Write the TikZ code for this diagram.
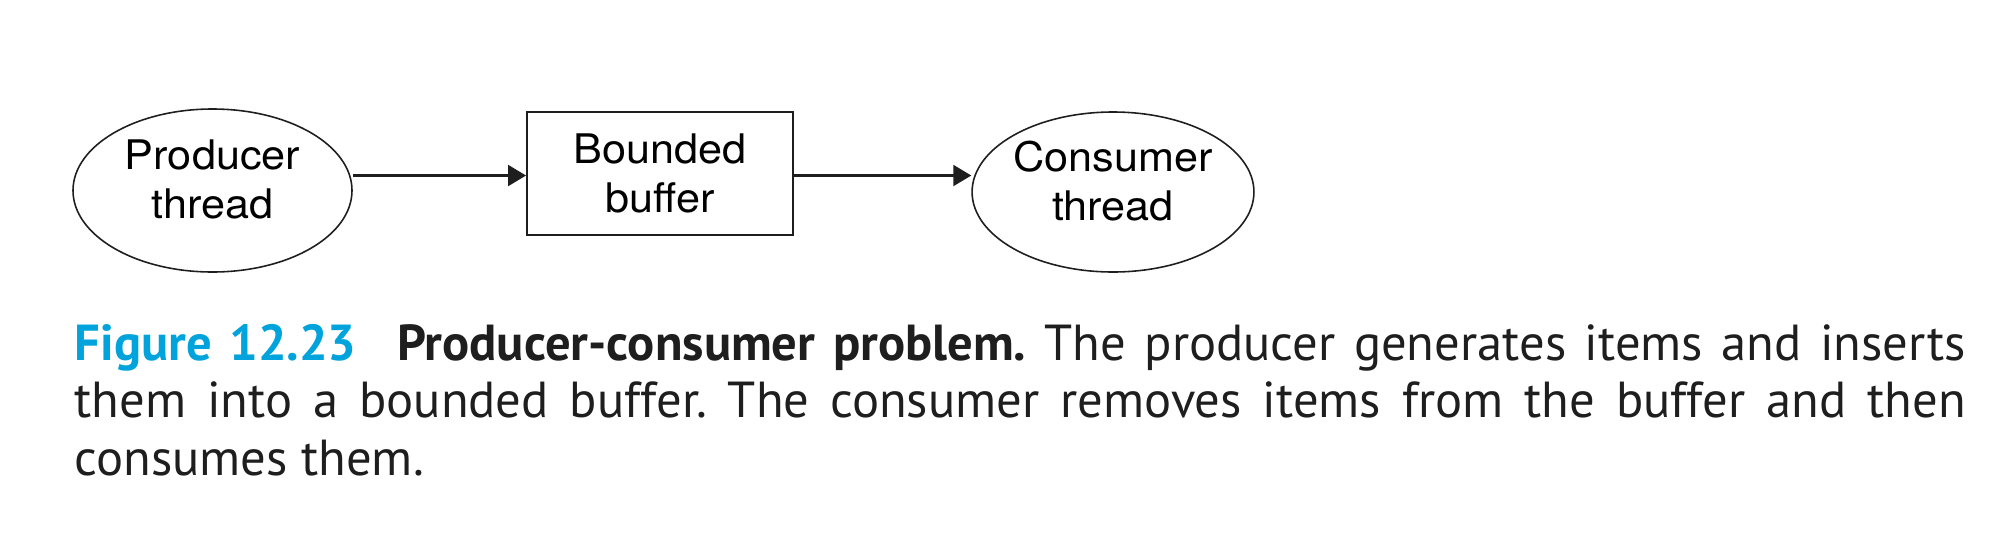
\documentclass[tikz,border=0pt]{standalone}
\usepackage{fontspec}
\setmainfont{PT Sans}
\newfontfamily\helv[FakeStretch=1.06]{TeX Gyre Heros}
\usetikzlibrary{arrows.meta, shapes.geometric, positioning}
\definecolor{figcyan}{RGB}{0,163,220}
\definecolor{figblack}{RGB}{30,30,30}

\begin{document}
\begin{tikzpicture}[
    thread/.style={draw=figblack, ellipse, line width=0.45pt, inner sep=0pt,
                   text depth=0.22cm, align=center,
                   font=\helv\fontsize{11.6}{13.9}\selectfont},
    bufbox/.style={draw=figblack, rectangle, line width=0.55pt, inner sep=0pt,
                   align=center, font=\helv\fontsize{11.6}{13.9}\selectfont},
    arrow/.style={-{Triangle[length=0.18cm, width=0.21cm]}, line width=0.6pt, figblack}
  ]
    \useasboundingbox (0,0) rectangle (19.90,-5.54);

    \node[thread, minimum width=2.79cm, minimum height=1.63cm] (prod) at (2.125,-1.905) {Producer\\thread};
    \node[bufbox, minimum width=2.66cm, minimum height=1.23cm] (buf) at (6.60,-1.735) {Bounded\\buffer};
    \node[thread, minimum width=2.80cm, minimum height=1.60cm] (cons) at (11.13,-1.92) {Consumer\\thread};

    \draw[arrow] ([yshift=-0.02cm]prod.east |- buf.west) -- ([yshift=-0.02cm]buf.west);
    \draw[arrow] ([yshift=-0.02cm]buf.east) -- ([yshift=-0.02cm]buf.east -| cons.west);

    % caption
    \node[anchor=base west, text width=18.91cm, align=justify, inner sep=0pt,
          font=\fontsize{14.4}{16.4}\selectfont\frenchspacing, text=figblack] (caption) at (0.74,-3.60)
      {\textcolor{figcyan}{\bfseries Figure 12.23}\hspace{0.8em}\textbf{Producer-consumer problem.} The producer generates items and inserts\linebreak
       them into a bounded buffer. The consumer removes items from the buffer and then\linebreak
       consumes them.};
\end{tikzpicture}
\end{document}
